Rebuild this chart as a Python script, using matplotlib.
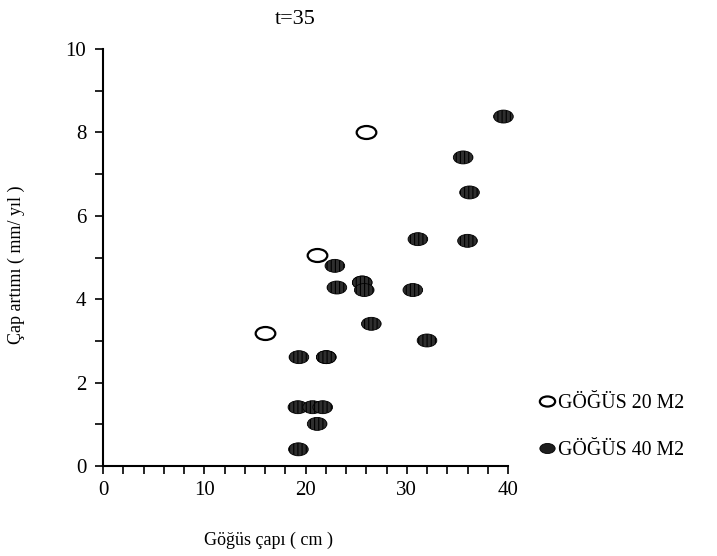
import matplotlib
matplotlib.use("Agg")
import matplotlib.pyplot as plt
import numpy as np
from matplotlib.path import Path
from matplotlib.lines import Line2D

plt.rcParams['font.family'] = ['Liberation Serif', 'DejaVu Serif']

title = "t=35"
xlabel = "Göğüs çapı ( cm )"
ylabel = "Çap artımı ( mm/ yıl )"
labels = ["GÖĞÜS 20 M2", "GÖĞÜS 40 M2"]

x20 = [26.0, 21.15, 16.0]
y20 = [8.0, 5.05, 3.2]

x40 = [39.55, 35.57, 36.2, 31.1, 36.0, 22.9, 25.6, 25.6, 25.8, 23.1, 30.6,
       26.5, 32.0, 19.35, 22.05, 22.05, 19.25, 20.7, 21.7, 21.15, 19.3]
y40 = [8.38, 7.40, 6.56, 5.44, 5.40, 4.80, 4.40, 4.40, 4.22, 4.28, 4.22,
       3.41, 3.01, 2.61, 2.61, 2.61, 1.41, 1.41, 1.41, 1.01, 0.40]

xticks = [0, 10, 20, 30, 40]
yticks = [0, 2, 4, 6, 8, 10]

# ellipse marker
circ = Path.unit_circle()
ell = Path(circ.vertices * np.array([1.0, 0.66]), circ.codes)

W, H = 717, 556
fig = plt.figure(figsize=(W / 100, H / 100), dpi=100)
ax = fig.add_axes([103 / W, 1 - 466 / H, (508 - 103) / W, (466 - 49) / H])

plt.rcParams['hatch.linewidth'] = 0.8
ax.scatter(x40, y40, s=200, marker=ell, facecolor='#2e2e2e', edgecolor='black',
           hatch='||||', linewidths=0.6, zorder=3, clip_on=False)
ax.scatter(x20, y20, s=200, marker=ell, facecolor='white', edgecolor='black',
           linewidths=1.6, zorder=4, clip_on=False)

ax.set_xlim(0, 40)
ax.set_ylim(0, 10)
ax.set_xticks(xticks)
ax.set_yticks(yticks)
ax.set_xticks(np.arange(0, 41, 2), minor=True)
ax.set_yticks(np.arange(0, 11, 1), minor=True)
ax.tick_params(which='both', direction='out', length=6, width=1.2, labelsize=15, colors='black')
ax.tick_params(axis='x', pad=5)
ax.tick_params(axis='y', pad=6)
for s in ['top', 'right']:
    ax.spines[s].set_visible(False)
for s in ['left', 'bottom']:
    ax.spines[s].set_linewidth(1.5)

fig.text(295 / W, 1 - 20 / H, title, ha='center', va='center', fontsize=16)
fig.text(268 / W, 1 - 540 / H, xlabel, ha='center', va='center', fontsize=13)
fig.text(16 / W, 1 - 265 / H, ylabel, ha='center', va='center', rotation=90, fontsize=13)

h20 = Line2D([], [], linestyle='none', marker=ell, markersize=11, markerfacecolor='white',
             markeredgecolor='black', markeredgewidth=1.6)
h40 = Line2D([], [], linestyle='none', marker=ell, markersize=11, markerfacecolor='#1e1e1e',
             markeredgecolor='black', markeredgewidth=0.6)
fig.legend([h20, h40], labels, loc='center left',
           bbox_to_anchor=(527 / W, 1 - 427 / H), frameon=False, fontsize=14.3,
           handlelength=1.0, handletextpad=0.05, labelspacing=1.4, borderpad=0)

fig.savefig("out.png", dpi=100)
